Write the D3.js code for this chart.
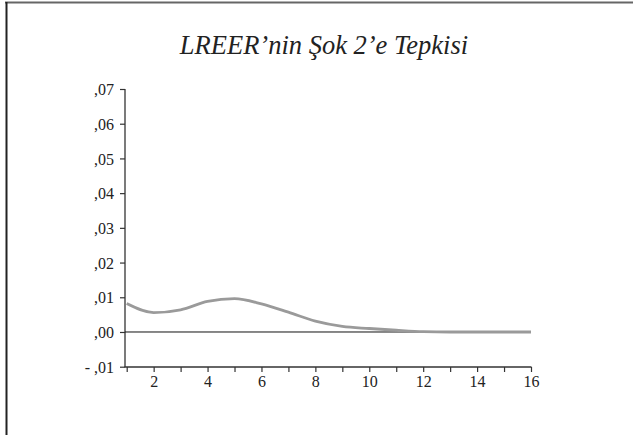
<!DOCTYPE html>
<html>
<head>
<meta charset="utf-8">
<script src="https://cdn.jsdelivr.net/npm/d3@7"></script>
</head>
<body style="margin:0; background:#fff">
<div class="chart"></div>
<script>
    const title = "LREER’nin Şok 2’e Tepkisi"
    const periods = [1, 2, 3, 4, 5, 6, 7, 8, 9, 10, 11, 12, 13, 14, 15, 16]
    const response = [0.0082, 0.0056, 0.0064, 0.0088, 0.0096, 0.0081, 0.0057, 0.0031, 0.0016, 0.0010, 0.0005, 0.0001, 0.0, 0.0, 0.0, 0.0]
    const yTicks = [-0.01, 0, 0.01, 0.02, 0.03, 0.04, 0.05, 0.06, 0.07]
    const xLabels = [2, 4, 6, 8, 10, 12, 14, 16]

    const W = 633, H = 435
    const serif = "'Liberation Serif'"

    let svg = d3.select(".chart").append("svg")
                .attr("width", W)
                .attr("height", H)

    // frame (top + left only, as in the scan)
    svg.append("line")
        .attr("x1", 5).attr("x2", W).attr("y1", 2.5).attr("y2", 2.5)
        .attr("stroke", "#666").attr("stroke-width", 2)
    svg.append("line")
        .attr("x1", 6.5).attr("x2", 6.5).attr("y1", 2).attr("y2", H)
        .attr("stroke", "#222").attr("stroke-width", 2)

    const xScale = d3.scaleLinear()
            .domain([1, 16])
            .range([126.7, 531])

    const yScale = d3.scaleLinear()
            .domain([-0.01, 0.07])
            .range([366.7, 89])

    // ",07" style labels, hyphen minus
    const fmt = v => {
        let s = Math.abs(v).toFixed(2).replace(".", ",").replace(/^0/, "")
        return (v < 0 ? "- " : "") + s
    }

    // y axis
    let yAxis = d3.axisLeft(yScale)
            .tickValues(yTicks)
            .tickSize(5)
            .tickPadding(6)
            .tickFormat(fmt)

    svg.append("g")
        .attr("class", "axis y-axis")
        .attr("transform", "translate(125,0)")
        .call(yAxis)

    // x axis
    let xAxis = d3.axisBottom(xScale)
            .tickValues(periods)
            .tickSize(5)
            .tickPadding(4)
            .tickFormat(d => xLabels.includes(d) ? d : "")

    svg.append("g")
        .attr("class", "axis x-axis")
        .attr("transform", "translate(0,367)")
        .call(xAxis)

    svg.selectAll(".axis .domain").remove()
    svg.append("line")
        .attr("x1", 125).attr("x2", 125).attr("y1", 89).attr("y2", 367)
        .attr("stroke", "#333").attr("stroke-width", 1.3)
    svg.append("line")
        .attr("x1", 124.5).attr("x2", 531.5).attr("y1", 367).attr("y2", 367)
        .attr("stroke", "#333").attr("stroke-width", 1.3)

    svg.selectAll(".axis line").attr("stroke", "#333").attr("stroke-width", 1.2)
    svg.selectAll(".axis text")
        .style("font-family", serif)
        .style("font-size", "16px")
        .attr("fill", "#222")
    svg.selectAll(".y-axis text").attr("dy", "0.35em")

    // zero line
    svg.append("line")
        .attr("x1", 125).attr("x2", xScale(16))
        .attr("y1", yScale(0)).attr("y2", yScale(0))
        .attr("stroke", "#111").attr("stroke-width", 1)

    // response line
    const line = d3.line()
        .x((d, i) => xScale(periods[i]))
        .y(d => yScale(d))
        .curve(d3.curveMonotoneX)

    svg.append("path")
        .datum(response)
        .attr("d", line)
        .attr("fill", "none")
        .attr("stroke", "#9a9a9a")
        .attr("stroke-width", 2.8)

    svg.append("text")
        .attr("x", 324)
        .attr("y", 54)
        .attr("text-anchor", "middle")
        .style("font-family", serif)
        .style("font-style", "italic")
        .style("font-size", "26.5px")
        .attr("fill", "#222")
        .text(title)
</script>
</body>
</html>
